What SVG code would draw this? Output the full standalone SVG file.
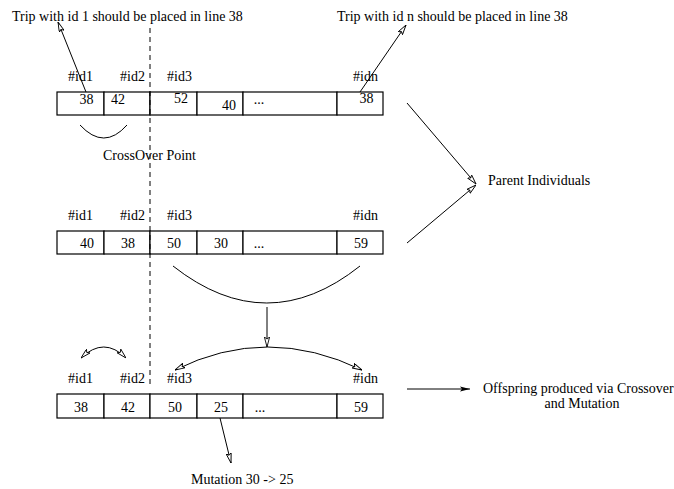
<svg xmlns="http://www.w3.org/2000/svg" width="674" height="489" viewBox="0 0 674 489">
  <style>
    text { font-family: "Liberation Serif", "Times New Roman", serif; font-size: 14px; fill: #000; }
    .mid { text-anchor: middle; }
    .cell { fill: #fff; stroke: #000; stroke-width: 1.2; }
    .ln { fill: none; stroke: #000; stroke-width: 1; }
    .arr { marker-end: url(#head); }
    .arr2 { marker-start: url(#head); marker-end: url(#head); }
  </style>
  <defs>
    <marker id="head" viewBox="0 0 10 6" refX="10" refY="3" markerWidth="10" markerHeight="6" markerUnits="userSpaceOnUse" orient="auto-start-reverse">
      <path d="M0,0.4 L10,3 L0,5.6 L2,3 Z" fill="#fff" stroke="#000" stroke-width="0.9"/>
    </marker>
    <marker id="solid" viewBox="0 0 10 6" refX="10" refY="3" markerWidth="10" markerHeight="6" markerUnits="userSpaceOnUse" orient="auto">
      <path d="M0,0.5 L10,3 L0,5.5 L2,3 Z" fill="#000"/>
    </marker>
  </defs>

  <!-- top annotations -->
  <g id="note-first">
    <text x="12" y="21">Trip with id 1 should be placed in line 38</text>
  </g>
  <g id="note-last">
    <text x="337" y="21">Trip with id n should be placed in line 38</text>
  </g>

  <!-- parent 1 -->
  <g id="parent1">
    <text x="68" y="81">#id1</text>
    <text x="120" y="81">#id2</text>
    <text x="167" y="81">#id3</text>
    <text x="353" y="81">#idn</text>
    <rect class="cell" x="57" y="92" width="47" height="23"/>
    <rect class="cell" x="104" y="92" width="46" height="23"/>
    <rect class="cell" x="150" y="92" width="47" height="23"/>
    <rect class="cell" x="197" y="92" width="46" height="23"/>
    <rect class="cell" x="243" y="92" width="94" height="23"/>
    <rect class="cell" x="337" y="92" width="46" height="23"/>
    <text class="mid" x="86.5" y="104">38</text>
    <text class="mid" x="118" y="104">42</text>
    <text class="mid" x="181" y="103">52</text>
    <text class="mid" x="229" y="110">40</text>
    <text class="mid" x="259" y="104">...</text>
    <text class="mid" x="366.5" y="103">38</text>
  </g>

  <g id="crossover-label">
    <text x="103" y="160">CrossOver Point</text>
  </g>

  <!-- parent 2 -->
  <g id="parent2">
    <text x="68" y="220">#id1</text>
    <text x="120" y="220">#id2</text>
    <text x="167" y="220">#id3</text>
    <text x="353" y="220">#idn</text>
    <rect class="cell" x="57" y="231" width="47" height="23"/>
    <rect class="cell" x="104" y="231" width="46" height="23"/>
    <rect class="cell" x="150" y="231" width="47" height="23"/>
    <rect class="cell" x="197" y="231" width="46" height="23"/>
    <rect class="cell" x="243" y="231" width="94" height="23"/>
    <rect class="cell" x="337" y="231" width="46" height="23"/>
    <text class="mid" x="87" y="248">40</text>
    <text class="mid" x="128" y="248">38</text>
    <text class="mid" x="174" y="248">50</text>
    <text class="mid" x="221" y="248">30</text>
    <text class="mid" x="259" y="248">...</text>
    <text class="mid" x="361" y="248">59</text>
  </g>

  <g id="parents-label">
    <text x="488" y="185">Parent Individuals</text>
  </g>

  <!-- offspring -->
  <g id="offspring">
    <text x="68" y="383">#id1</text>
    <text x="120" y="383">#id2</text>
    <text x="167" y="383">#id3</text>
    <text x="353" y="383">#idn</text>
    <rect class="cell" x="57" y="394" width="47" height="24"/>
    <rect class="cell" x="104" y="394" width="46" height="24"/>
    <rect class="cell" x="150" y="394" width="47" height="24"/>
    <rect class="cell" x="197" y="394" width="46" height="24"/>
    <rect class="cell" x="243" y="394" width="94" height="24"/>
    <rect class="cell" x="337" y="394" width="46" height="24"/>
    <text class="mid" x="81" y="412">38</text>
    <text class="mid" x="128" y="412">42</text>
    <text class="mid" x="175" y="412">50</text>
    <text class="mid" x="221" y="412">25</text>
    <text class="mid" x="260" y="412">...</text>
    <text class="mid" x="361" y="412">59</text>
  </g>

  <g id="offspring-label">
    <text x="483" y="393">Offspring produced via Crossover</text>
    <text class="mid" x="582" y="408">and Mutation</text>
  </g>

  <g id="mutation-label">
    <text x="191" y="484">Mutation 30 -&gt; 25</text>
  </g>

  <!-- connectors -->
  <g id="connectors">
    <line class="ln" x1="150" y1="28" x2="150" y2="387" stroke-dasharray="5,4"/>
    <line class="ln arr" x1="86" y1="92" x2="58" y2="22"/>
    <line class="ln arr" x1="360" y1="92" x2="406" y2="25"/>
    <path class="ln" d="M80,125 Q104,151 127,125"/>
    <line class="ln arr" x1="407" y1="103" x2="476" y2="184"/>
    <line class="ln arr" x1="407" y1="243" x2="476" y2="185"/>
    <path class="ln" d="M173,266 Q267,340 360,266"/>
    <line class="ln arr" x1="267" y1="307" x2="267" y2="347"/>
    <path class="ln arr2" d="M175,370 Q267,324 362,370"/>
    <path class="ln arr2" d="M81,358 Q104,336 126,358"/>
    <line class="ln arr" x1="220" y1="418" x2="231" y2="463"/>
    <line class="ln" x1="407" y1="389" x2="470" y2="389" marker-end="url(#solid)"/>
  </g>
</svg>
